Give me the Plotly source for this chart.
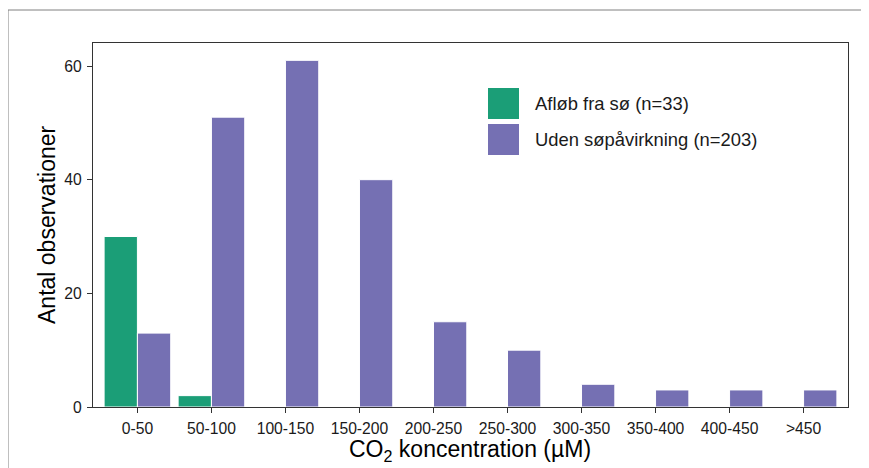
import plotly.graph_objects as go

categories = ["0-50", "50-100", "100-150", "150-200", "200-250", "250-300",
              "300-350", "350-400", "400-450", ">450"]
afloeb = [30, 2, None, None, None, None, None, None, None, None]
uden = [13, 51, 61, 40, 15, 10, 4, 3, 3, 3]
series_names = ["Afløb fra sø (n=33)", "Uden søpåvirkning (n=203)"]
colors = ["#1B9E77", "#7570B3"]
y_ticks = [0, 20, 40, 60]

OFF = 8  # page body margin
W, H = 869 - OFF, 468 - OFF
L, R, T, B = 93 - OFF, 21, 43 - OFF, 61
pw, ph = W - L - R, H - T - B

def px_x(x):
    return (x - OFF - L) / pw

def px_y(y):
    return 1 - (y - OFF - T) / ph

FONT = "Liberation Sans, Arial, sans-serif"

fig = go.Figure()
for name, vals, col in zip(series_names, [afloeb, uden], colors):
    fig.add_trace(go.Bar(x=categories, y=vals, name=name,
                         marker=dict(color=col, line=dict(color="white", width=1)),
                         showlegend=False))

fig.update_layout(
    width=W, height=H,
    margin=dict(l=L, r=R, t=T, b=B),
    paper_bgcolor="white", plot_bgcolor="white",
    barmode="group", bargap=0.1, bargroupgap=0,
    font=dict(family=FONT, color="#1a1a1a"),
    xaxis=dict(range=[-0.6, 9.6], showline=True, mirror=True, linecolor="#333333",
               linewidth=1.2, ticks="outside", ticklen=5, tickcolor="#333333",
               tickfont=dict(size=15.7, color="#1a1a1a"), showgrid=False, zeroline=False,
               ticklabelstandoff=2),
    yaxis=dict(range=[0, 64.05], showline=True, mirror=True, linecolor="#333333",
               linewidth=1.2, ticks="outside", ticklen=5, tickcolor="#333333",
               tickvals=y_ticks, tickfont=dict(size=15.7, color="#1a1a1a"),
               showgrid=False, zeroline=False, ticklabelstandoff=2),
)

# outer border (top and left edges only are visible)
fig.add_shape(type="line", xref="paper", yref="paper",
              x0=px_x(8), x1=px_x(2000), y0=px_y(10), y1=px_y(10),
              line=dict(color="#808080", width=1), layer="below")
fig.add_shape(type="line", xref="paper", yref="paper",
              x0=px_x(8), x1=px_x(8), y0=px_y(10), y1=px_y(2000),
              line=dict(color="#808080", width=1), layer="below")

# custom legend
for i, (name, col) in enumerate(zip(series_names, colors)):
    y0 = 88 + i * 36
    fig.add_shape(type="rect", xref="paper", yref="paper",
                  x0=px_x(488), x1=px_x(519), y0=px_y(y0 + 31), y1=px_y(y0),
                  line=dict(width=0), fillcolor=col)
    fig.add_annotation(xref="paper", yref="paper", x=px_x(533), y=px_y(y0 + 16),
                       text=name, showarrow=False, xanchor="left", yanchor="middle",
                       font=dict(size=18.4, family=FONT, color="#1a1a1a"))

# axis titles
fig.add_annotation(xref="paper", yref="paper", x=px_x(470), y=px_y(450),
                   text="CO<sub>2</sub> koncentration (µM)", showarrow=False,
                   xanchor="center", yanchor="middle",
                   font=dict(size=23, family=FONT, color="#000000"))
fig.add_annotation(xref="paper", yref="paper", x=px_x(47), y=px_y(225),
                   text="Antal observationer", showarrow=False, textangle=-90,
                   xanchor="center", yanchor="middle",
                   font=dict(size=23, family=FONT, color="#000000"))

fig.write_html("out.html")
